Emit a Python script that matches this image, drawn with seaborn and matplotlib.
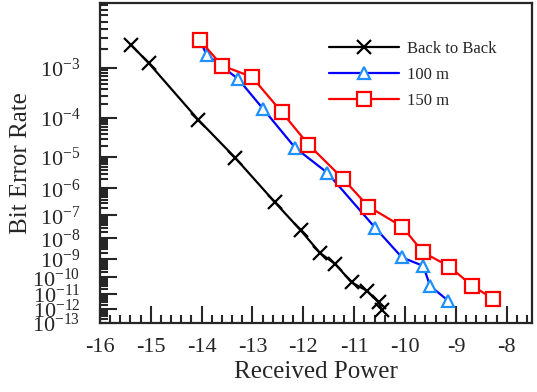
import numpy as np
import pandas as pd
import matplotlib
matplotlib.use('Agg')
import matplotlib.pyplot as plt
import seaborn as sns

# values (received power, BER)
b2b_power = [-15.38, -15.04, -14.07, -13.34, -12.56, -12.05, -11.67, -11.37, -11.05, -10.75, -10.52, -10.45]
b2b_ber = [2.3e-3, 1.2e-3, 9.1e-5, 9.3e-6, 3.2e-7, 2.3e-8, 2.0e-9, 5.4e-10, 5.0e-11, 1.6e-11, 2.8e-12, 8.5e-13]

m100_power = [-14.03, -13.90, -13.28, -12.79, -12.16, -11.53, -10.59, -10.06, -9.64, -9.51, -9.15]
m100_ber = [2.7e-3, 1.64e-3, 6.3e-4, 1.58e-4, 1.77e-5, 3.3e-6, 3.05e-8, 1.2e-9, 4.3e-10, 3.2e-11, 3.6e-12]

m150_power = [-14.03, -13.60, -13.01, -12.42, -11.90, -11.22, -10.72, -10.06, -9.64, -9.13, -8.68, -8.27]
m150_ber = [2.72e-3, 1.09e-3, 6.85e-4, 1.33e-4, 2.17e-5, 2.11e-6, 2.18e-7, 3.4e-8, 2.14e-9, 4.0e-10, 3.2e-11, 4.9e-12]

series = {
    'Back to Back': pd.DataFrame({'power': b2b_power, 'ber': b2b_ber}),
    '100 m': pd.DataFrame({'power': m100_power, 'ber': m100_ber}),
    '150 m': pd.DataFrame({'power': m150_power, 'ber': m150_ber}),
}

sns.set_style('ticks')
plt.rcParams['font.family'] = ['Liberation Serif', 'DejaVu Serif']
plt.rcParams['mathtext.fontset'] = 'custom'
plt.rcParams['mathtext.rm'] = 'Liberation Serif'
plt.rcParams['mathtext.it'] = 'Liberation Serif:italic'
plt.rcParams['axes.unicode_minus'] = False

fig, ax = plt.subplots(figsize=(5.37, 3.92), dpi=100)
fig.subplots_adjust(left=0.186, right=0.991, top=0.992, bottom=0.176)

styles = {
    'Back to Back': dict(color='black', marker='x', markersize=10, markeredgewidth=1.6,
                         markeredgecolor='black'),
    '100 m': dict(color='#0000ff', marker='^', markersize=9, markeredgewidth=1.6,
                  markerfacecolor='white', markeredgecolor='#1e90ff'),
    '150 m': dict(color='#ff0000', marker='s', markersize=9.5, markeredgewidth=1.6,
                  markerfacecolor='white', markeredgecolor='#ff0000'),
}

for name, d in series.items():
    sns.lineplot(data=d, x='power', y='ber', ax=ax, estimator=None, sort=False,
                 linewidth=1.6, label=name, **styles[name])

# double log BER scale
def fwd(y):
    with np.errstate(all='ignore'):
        return -np.log10(-np.log10(y))

def inv(v):
    with np.errstate(all='ignore'):
        return 10.0 ** (-(10.0 ** (-v)))

ax.set_yscale('function', functions=(fwd, inv))
ax.set_ylim(1.2e-13, 8.5e-3)
ax.set_xlim(-16, -7.5)

exps = list(range(3, 14))
ax.set_yticks([10.0 ** -e for e in exps])
ax.set_yticklabels(['10$^{-%d}$' % e for e in exps])
minor = [k * 10.0 ** -e for e in range(3, 14) for k in range(2, 10)]
minor = [m for m in minor if 1.2e-13 < m < 8.5e-3]
ax.set_yticks(minor, minor=True)

ax.set_xticks(np.arange(-16, -7, 1))
ax.set_xticks(np.arange(-16, -7.4, 0.2), minor=True)

ax.tick_params(which='both', direction='in', top=False, right=False, width=1.5)
ax.tick_params(which='major', length=12, labelsize=16)
ax.tick_params(axis='y', which='major', pad=14)
ax.tick_params(axis='x', which='major', pad=11)
ax.tick_params(which='minor', length=6)
for s in ax.spines.values():
    s.set_linewidth(1.6)

ax.set_xlabel('Received Power', fontsize=18, labelpad=3)
ax.set_ylabel('Bit Error Rate', fontsize=18, labelpad=0)

ax.legend(loc='upper left', bbox_to_anchor=(0.495, 0.93), frameon=False, fontsize=12,
          handlelength=4.2, handletextpad=0.5, labelspacing=0.6)

fig.savefig('out.png', dpi=100)
